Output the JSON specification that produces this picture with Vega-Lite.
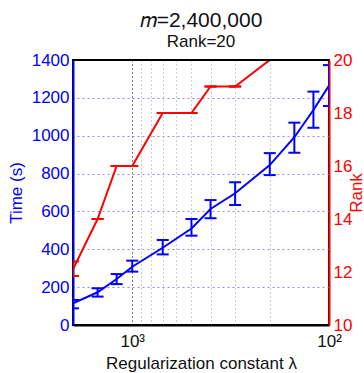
{
  "$schema": "https://vega.github.io/schema/vega-lite/v6.json",
  "width": 256,
  "height": 265,
  "autosize": {"type": "none"},
  "padding": {"left": 73, "top": 60, "right": 35, "bottom": 48},
  "background": "white",
  "config": {
    "font": "Liberation Sans",
    "view": {"stroke": "black", "strokeWidth": 2}
  },
  "title": {
    "text": "𝑚=2,400,000",
    "subtitle": "Rank=20",
    "fontSize": 21,
    "fontWeight": "normal",
    "font": "Liberation Sans",
    "subtitleFont": "Liberation Sans",
    "subtitleFontSize": 17,
    "color": "#111111",
    "subtitleColor": "#111111",
    "anchor": "middle",
    "offset": 1,
    "subtitlePadding": 3
  },
  "data": {
    "values": [
      {"lam": 2000, "time": 115, "tlo": 88, "thi": 132, "rank": 12.1, "rlo": 11.85, "rhi": 12.4},
      {"lam": 1500, "time": 173, "tlo": 150, "thi": 194, "rank": 14, "rlo": 14, "rhi": 14},
      {"lam": 1200, "time": 243, "tlo": 216, "thi": 269, "rank": 16, "rlo": 16, "rhi": 16},
      {"lam": 1000, "time": 308, "tlo": 282, "thi": 340, "rank": 16, "rlo": 16, "rhi": 16},
      {"lam": 700, "time": 408, "tlo": 373, "thi": 449, "rank": 18, "rlo": 18, "rhi": 18},
      {"lam": 500, "time": 510, "tlo": 472, "thi": 560, "rank": 18, "rlo": 18, "rhi": 18},
      {"lam": 400, "time": 613, "tlo": 564, "thi": 660, "rank": 19, "rlo": 19, "rhi": 19},
      {"lam": 300, "time": 696, "tlo": 634, "thi": 754, "rank": 19, "rlo": 19, "rhi": 19},
      {"lam": 200, "time": 845, "tlo": 792, "thi": 908, "rank": 20, "rlo": 20, "rhi": 20},
      {"lam": 150, "time": 992, "tlo": 910, "thi": 1069, "rank": 20, "rlo": 20, "rhi": 20},
      {"lam": 120, "time": 1136, "tlo": 1042, "thi": 1233, "rank": 20, "rlo": 20, "rhi": 20},
      {"lam": 100, "time": 1265, "tlo": 1157, "thi": 1373, "rank": 20, "rlo": 20, "rhi": 20}
    ]
  },
  "encoding": {
    "x": {
      "field": "lam",
      "type": "quantitative",
      "scale": {"type": "log", "domain": [100, 2000], "reverse": true},
      "axis": {
        "title": "Regularization constant λ",
        "titleFontSize": 17,
        "titleFontWeight": "normal",
        "titleColor": "#111111",
        "titlePadding": 6,
        "values": [100, 200, 300, 400, 500, 600, 700, 800, 900, 1000, 2000],
        "labelExpr": "datum.value == 1000 ? '10³' : (datum.value == 100 ? '10²' : '')",
        "labelFontSize": 17,
        "labelColor": "#111111",
        "labelPadding": 8,
        "labelFlush": false,
        "labelOverlap": false,
        "tickSize": 0,
        "domainColor": "black",
        "domainWidth": 2,
        "grid": true,
        "gridDash": [1, 3],
        "gridColor": {"condition": {"test": "datum.value == 1000", "value": "#000000"}, "value": "#9a9a9a"},
        "gridWidth": 1
      }
    }
  },
  "layer": [
    {
      "encoding": {
        "y": {
          "field": "time",
          "type": "quantitative",
          "title": "Time (s)",
          "scale": {"domain": [0, 1400], "nice": false, "zero": false},
          "axis": {
            "orient": "left",
            "values": [0, 200, 400, 600, 800, 1000, 1200, 1400],
            "format": "d",
            "labelFontSize": 17,
            "labelColor": "#0000ff",
            "labelPadding": 4,
            "tickSize": 0,
            "domainColor": "#0000ff",
            "domainWidth": 2,
            "titleColor": "#0000ff",
            "titleFontSize": 17,
            "titleFontWeight": "normal",
            "titlePadding": 6,
            "grid": true,
            "gridColor": "#8a8aff",
            "gridDash": [2, 3],
            "gridWidth": 1
          }
        }
      },
      "layer": [
        {"mark": {"type": "line", "color": "#0000ff", "strokeWidth": 2, "clip": true}},
        {
          "mark": {"type": "rule", "color": "#0000ff", "strokeWidth": 2, "clip": true},
          "encoding": {"y": {"field": "tlo", "type": "quantitative", "title": "Time (s)"}, "y2": {"field": "thi"}}
        },
        {
          "mark": {"type": "tick", "orient": "horizontal", "color": "#0000ff", "size": 12, "thickness": 2, "opacity": 1, "clip": true},
          "encoding": {"y": {"field": "tlo", "type": "quantitative", "title": "Time (s)"}}
        },
        {
          "mark": {"type": "tick", "orient": "horizontal", "color": "#0000ff", "size": 12, "thickness": 2, "opacity": 1, "clip": true},
          "encoding": {"y": {"field": "thi", "type": "quantitative", "title": "Time (s)"}}
        }
      ]
    },
    {
      "encoding": {
        "y": {
          "field": "rank",
          "type": "quantitative",
          "title": "Rank",
          "scale": {"domain": [10, 20], "nice": false, "zero": false},
          "axis": {
            "orient": "right",
            "values": [10, 12, 14, 16, 18, 20],
            "labelFontSize": 17,
            "labelColor": "#ff0000",
            "labelPadding": 4,
            "tickSize": 0,
            "domainColor": "#ff0000",
            "domainWidth": 2,
            "titleColor": "#ff0000",
            "titleFontSize": 17,
            "titleFontWeight": "normal",
            "titleAngle": 270,
            "titleBaseline": "top",
            "titlePadding": -3,
            "grid": false
          }
        }
      },
      "layer": [
        {"mark": {"type": "line", "color": "#ff0000", "strokeWidth": 2, "clip": true}},
        {
          "mark": {"type": "rule", "color": "#ff0000", "strokeWidth": 2, "clip": true},
          "encoding": {"y": {"field": "rlo", "type": "quantitative", "title": "Rank"}, "y2": {"field": "rhi"}}
        },
        {
          "mark": {"type": "tick", "orient": "horizontal", "color": "#ff0000", "size": 12, "thickness": 2, "opacity": 1, "clip": true},
          "encoding": {"y": {"field": "rlo", "type": "quantitative", "title": "Rank"}}
        },
        {
          "mark": {"type": "tick", "orient": "horizontal", "color": "#ff0000", "size": 12, "thickness": 2, "opacity": 1, "clip": true},
          "encoding": {"y": {"field": "rhi", "type": "quantitative", "title": "Rank"}}
        },
        {
          "mark": {"type": "rule", "color": "#000000", "strokeWidth": 2},
          "encoding": {"x": {"datum": 2000}, "x2": {"datum": 100}, "y": {"datum": 20}}
        }
      ]
    }
  ],
  "resolve": {"scale": {"y": "independent"}, "axis": {"y": "independent"}}
}
